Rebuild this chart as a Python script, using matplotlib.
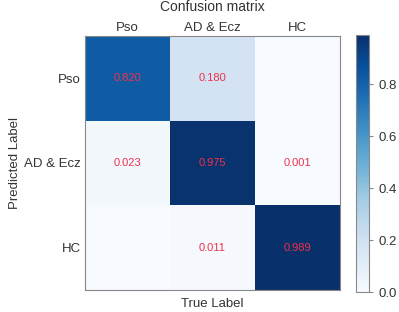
import numpy as np
import matplotlib.pyplot as plt

classes = ['Pso', 'AD & Ecz', 'HC']
cm = np.array([[0.820, 0.180, 0.000],
               [0.023, 0.975, 0.001],
               [0.000, 0.011, 0.989]])

plt.rcParams['font.family'] = ['Liberation Sans', 'DejaVu Sans']
txt = '#333333'

fig = plt.figure(figsize=(3.99, 3.12), dpi=100)
ax = fig.add_axes([0.213, 0.071, 0.639, 0.814])
cax = fig.add_axes([0.892, 0.064, 0.033, 0.824])

im = ax.imshow(cm, cmap='Blues', vmin=0, vmax=cm.max(), aspect='auto')
cb = fig.colorbar(im, cax=cax)
cb.set_ticks([0.0, 0.2, 0.4, 0.6, 0.8])
cb.ax.tick_params(labelsize=9.5, colors=txt, length=3, color='#888888')
cb.outline.set_edgecolor('#888888')

ax.set_xticks(range(3))
ax.set_yticks(range(3))
ax.set_xticklabels(classes)
ax.set_yticklabels(classes)
ax.xaxis.tick_top()
ax.tick_params(axis='x', length=0, labelsize=9.5, colors=txt, pad=1.5)
ax.tick_params(axis='y', length=0, labelsize=9.5, colors=txt, pad=3)
for s in ax.spines.values():
    s.set_edgecolor('#888888')
    s.set_linewidth(0.8)

for i in range(3):
    for j in range(3):
        if cm[i, j] > 0:
            ax.text(j, i, '%.3f' % cm[i, j], ha='center', va='center',
                    color='#f0304a', fontsize=8)

ax.set_ylabel('Predicted Label', fontsize=9.5, color=txt, labelpad=2)
ax.set_xlabel('True Label', fontsize=9.5, color=txt, labelpad=6)
fig.text(0.533, 0.976, 'Confusion matrix', ha='center', va='center',
         fontsize=10, color=txt)

fig.savefig('out.png', dpi=100)
